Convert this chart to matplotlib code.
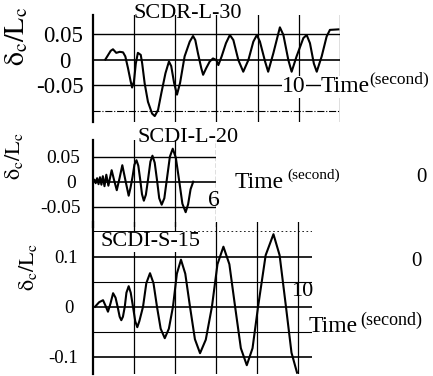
import matplotlib
matplotlib.use("Agg")
import matplotlib.pyplot as plt

plt.rcParams["font.family"] = ["Liberation Serif", "DejaVu Serif"]
plt.rcParams["mathtext.fontset"] = "stix"

# --- data (time in s, delta_c/L_c) ---
# SCDR-L-30
t1 = [0.60, 0.86, 0.97, 1.13, 1.30, 1.46, 1.57, 1.70, 1.83, 1.90, 1.99, 2.08, 2.18, 2.32, 2.39,
      2.51, 2.67, 2.87, 3.00, 3.16, 3.32, 3.52, 3.69, 3.80, 3.94, 4.08, 4.23, 4.45, 4.70, 4.86,
      4.97, 5.10, 5.26, 5.35, 5.50, 5.67, 5.83, 5.99, 6.09, 6.25, 6.46, 6.65, 6.82, 7.06,
      7.30, 7.55, 7.79, 7.96, 8.11, 8.36, 8.51, 8.76, 9.08, 9.25, 9.49, 9.65, 9.89,
      10.22, 10.38, 10.54, 10.73, 10.87, 11.11, 11.35, 11.51, 11.92]
d1 = [0.001, 0.018, 0.021, 0.014, 0.016, 0.015, 0.007, -0.016, -0.042, -0.054, -0.042, -0.007,
      0.014, 0.010, -0.007, -0.046, -0.082, -0.105, -0.110, -0.098, -0.065, -0.026, -0.003,
      -0.012, -0.045, -0.068, -0.045, 0.007, 0.036, 0.047, 0.039, 0.013, -0.016, -0.029, -0.016,
      -0.003, 0.003, 0.000, -0.010, 0.007, 0.033, 0.049, 0.039, 0.000, -0.023, 0.000, 0.036,
      0.049, 0.036, -0.003, -0.023, 0.013, 0.064, 0.049, 0.000, -0.023, 0.007, 0.043, 0.049,
      0.033, -0.007, -0.023, 0.007, 0.046, 0.059, 0.060]

# SCDI-L-20
t2 = [0.00, 0.07, 0.13, 0.20, 0.27, 0.34, 0.41, 0.48, 0.56, 0.65, 0.75, 0.91, 1.03, 1.16, 1.30,
      1.43, 1.58, 1.74, 1.83, 1.93, 2.02, 2.12, 2.21, 2.30, 2.39, 2.48, 2.58, 2.69, 2.80, 2.90,
      3.01, 3.12, 3.23, 3.35, 3.48, 3.62, 3.75, 3.89, 4.04, 4.20, 4.36, 4.52, 4.64, 4.76, 4.89]
d2 = [0.000, 0.004, -0.003, 0.007, -0.005, 0.009, -0.006, 0.011, -0.009, 0.014, -0.008, 0.023,
      0.003, -0.017, 0.008, 0.033, 0.003, -0.028, -0.012, 0.010, 0.034, 0.043, 0.032, 0.005,
      -0.025, -0.038, -0.026, 0.006, 0.040, 0.052, 0.038, 0.004, -0.033, -0.046, -0.033, 0.010,
      0.050, 0.066, 0.048, 0.003, -0.044, -0.061, -0.045, -0.015, 0.000]

# SCDI-S-15
t3 = [0.10, 0.30, 0.49, 0.61, 0.73, 0.85, 0.98, 1.10, 1.20, 1.30, 1.38, 1.46, 1.55, 1.63, 1.74,
      1.84, 1.95, 2.06, 2.16, 2.26, 2.44, 2.60, 2.78, 2.95, 3.12, 3.30, 3.50, 3.70, 3.90, 4.09,
      4.29, 4.50, 4.73, 4.97, 5.22, 5.50, 5.80, 6.07, 6.36, 6.65, 6.93, 7.21, 7.50, 7.78, 8.05,
      8.42, 8.80, 9.10, 9.41, 9.68, 9.95]
d3 = [0.000, 0.009, 0.013, 0.002, -0.010, 0.006, 0.027, 0.018, 0.000, -0.020, -0.027, -0.020,
      0.000, 0.028, 0.041, 0.028, 0.000, -0.029, -0.041, -0.029, 0.000, 0.047, 0.067, 0.047,
      0.000, -0.044, -0.063, -0.044, 0.000, 0.066, 0.094, 0.066, 0.000, -0.065, -0.093, -0.066,
      0.000, 0.085, 0.120, 0.085, 0.000, -0.083, -0.117, -0.083, 0.000, 0.103, 0.145, 0.103,
      0.000, -0.092, -0.132]

yt1 = [0.05, 0, -0.05]
yl1 = ["0.05", "0\u2002", "-0.05"]
yt2 = [0.05, 0, -0.05]
yl2 = ["0.05", "0\u2009", "-0.05"]
yt3 = [0.1, 0, -0.1]
yl3 = ["0.1", "0\u2009", "-0.1"]

W, H = 433, 376
fig = plt.figure(figsize=(W / 100, H / 100), dpi=100)


def px(x, y):
    return x / W, 1 - y / H


def setup(ax, ytk, ylab, pad, fs):
    ax.set_facecolor("none")
    for s in ["top", "right", "bottom"]:
        ax.spines[s].set_visible(False)
    ax.spines["left"].set_linewidth(1.6)
    ax.set_xticks([])
    ax.set_yticks(ytk, ylab)
    ax.tick_params(axis="y", length=0, pad=pad, labelsize=fs)


# panel 1 (0-12 s, grid every 2 s)
ax1 = fig.add_axes([93 / W, 1 - 122 / H, 247 / W, 107 / H])
setup(ax1, yt1, yl1, 7, 16.5)
ax1.set_xlim(0, 12)
ax1.set_ylim(-0.1216, 0.0882)
for v in [0.05, 0, -0.05]:
    ax1.axhline(v, color="k", lw=1.2 if v == 0 else 1.0)
ax1.axhline(-0.1, color="k", lw=0.8, ls="-.")
for x in [2, 4, 6, 8, 10, 12]:
    ax1.axvline(x, color="k", lw=0.9)
ax1.plot(t1, d1, color="k", lw=1.5)

# panel 2
ax2 = fig.add_axes([93 / W, 1 - 227 / H, 123 / W, 87 / H])
setup(ax2, yt2, yl2, 9, 14)
ax2.set_xlim(0, 6)
ax2.set_ylim(-0.0906, 0.0834)
for v in [0.05, 0, -0.05]:
    ax2.axhline(v, color="k", lw=1.2 if v == 0 else 1.0)
for x in [2, 4]:
    ax2.axvline(x, color="k", lw=0.9)
ax2.axvline(6, color="k", lw=0.9, ls="--")
ax2.plot(t2, d2, color="k", lw=1.5)

# panel 3
ax3 = fig.add_axes([93 / W, 1 - 374 / H, 219 / W, 152 / H])
setup(ax3, yt3, yl3, 11, 13.5)
ax3.set_xlim(0, 10.68)
ax3.set_ylim(-0.1346, 0.1694)
for v in [0.1, 0.05, 0, -0.05, -0.1]:
    ax3.axhline(v, color="k", lw=1.2 if v in (0.1, 0, -0.1) else 0.8)
ax3.axhline(0.151, xmax=0.4, color="k", lw=0.7)
ax3.axhline(0.151, xmin=0.4, color="k", lw=0.6, ls=(0, (2, 3)))
for x in [2, 4, 6, 8, 10]:
    ax3.axvline(x, color="k", lw=0.9)
ax3.plot(t3, d3, color="k", lw=1.5)

# y labels
ylab = r"$\mathrm{\delta_c/L_c}$"
fig.text(*px(17, 36), ylab, rotation=90, ha="center", va="center", fontsize=20)
fig.text(*px(14, 156), ylab, rotation=90, ha="center", va="center", fontsize=16)
fig.text(*px(28, 267), ylab, rotation=90, ha="center", va="center", fontsize=16)

# titles
fig.text(*px(188, 13), "SCDR-L-30", ha="center", va="center", fontsize=16)
fig.text(*px(188, 138), "SCDI-L-20", ha="center", va="center", fontsize=16)
fig.text(*px(150, 242), "SCDI-S-15", ha="center", va="center", fontsize=16,
         bbox=dict(facecolor="white", edgecolor="none", pad=0.5))

# axis annotations
wb = dict(facecolor="white", edgecolor="none", pad=0.3)
fig.text(*px(294, 87), "10", ha="center", va="center", fontsize=17, bbox=wb)
fig.text(*px(321, 87), "Time", ha="left", va="center", fontsize=17, bbox=wb)
fig.text(*px(369, 79), "(second)", ha="left", va="center", fontsize=12.5)

fig.text(*px(214, 200), "6", ha="center", va="center", fontsize=17)
fig.text(*px(235, 182), "Time", ha="left", va="center", fontsize=17)
fig.text(*px(287, 175), "(second)", ha="left", va="center", fontsize=11)
fig.text(*px(421, 177), "0", ha="center", va="center", fontsize=15)

fig.text(*px(302, 291), "10", ha="center", va="center", fontsize=16)
fig.text(*px(309, 327), "Time", ha="left", va="center", fontsize=17)
fig.text(*px(360, 320), "(second)", ha="left", va="center", fontsize=13)
fig.text(*px(416, 261), "0", ha="center", va="center", fontsize=15)

fig.savefig("out.png", dpi=100)
